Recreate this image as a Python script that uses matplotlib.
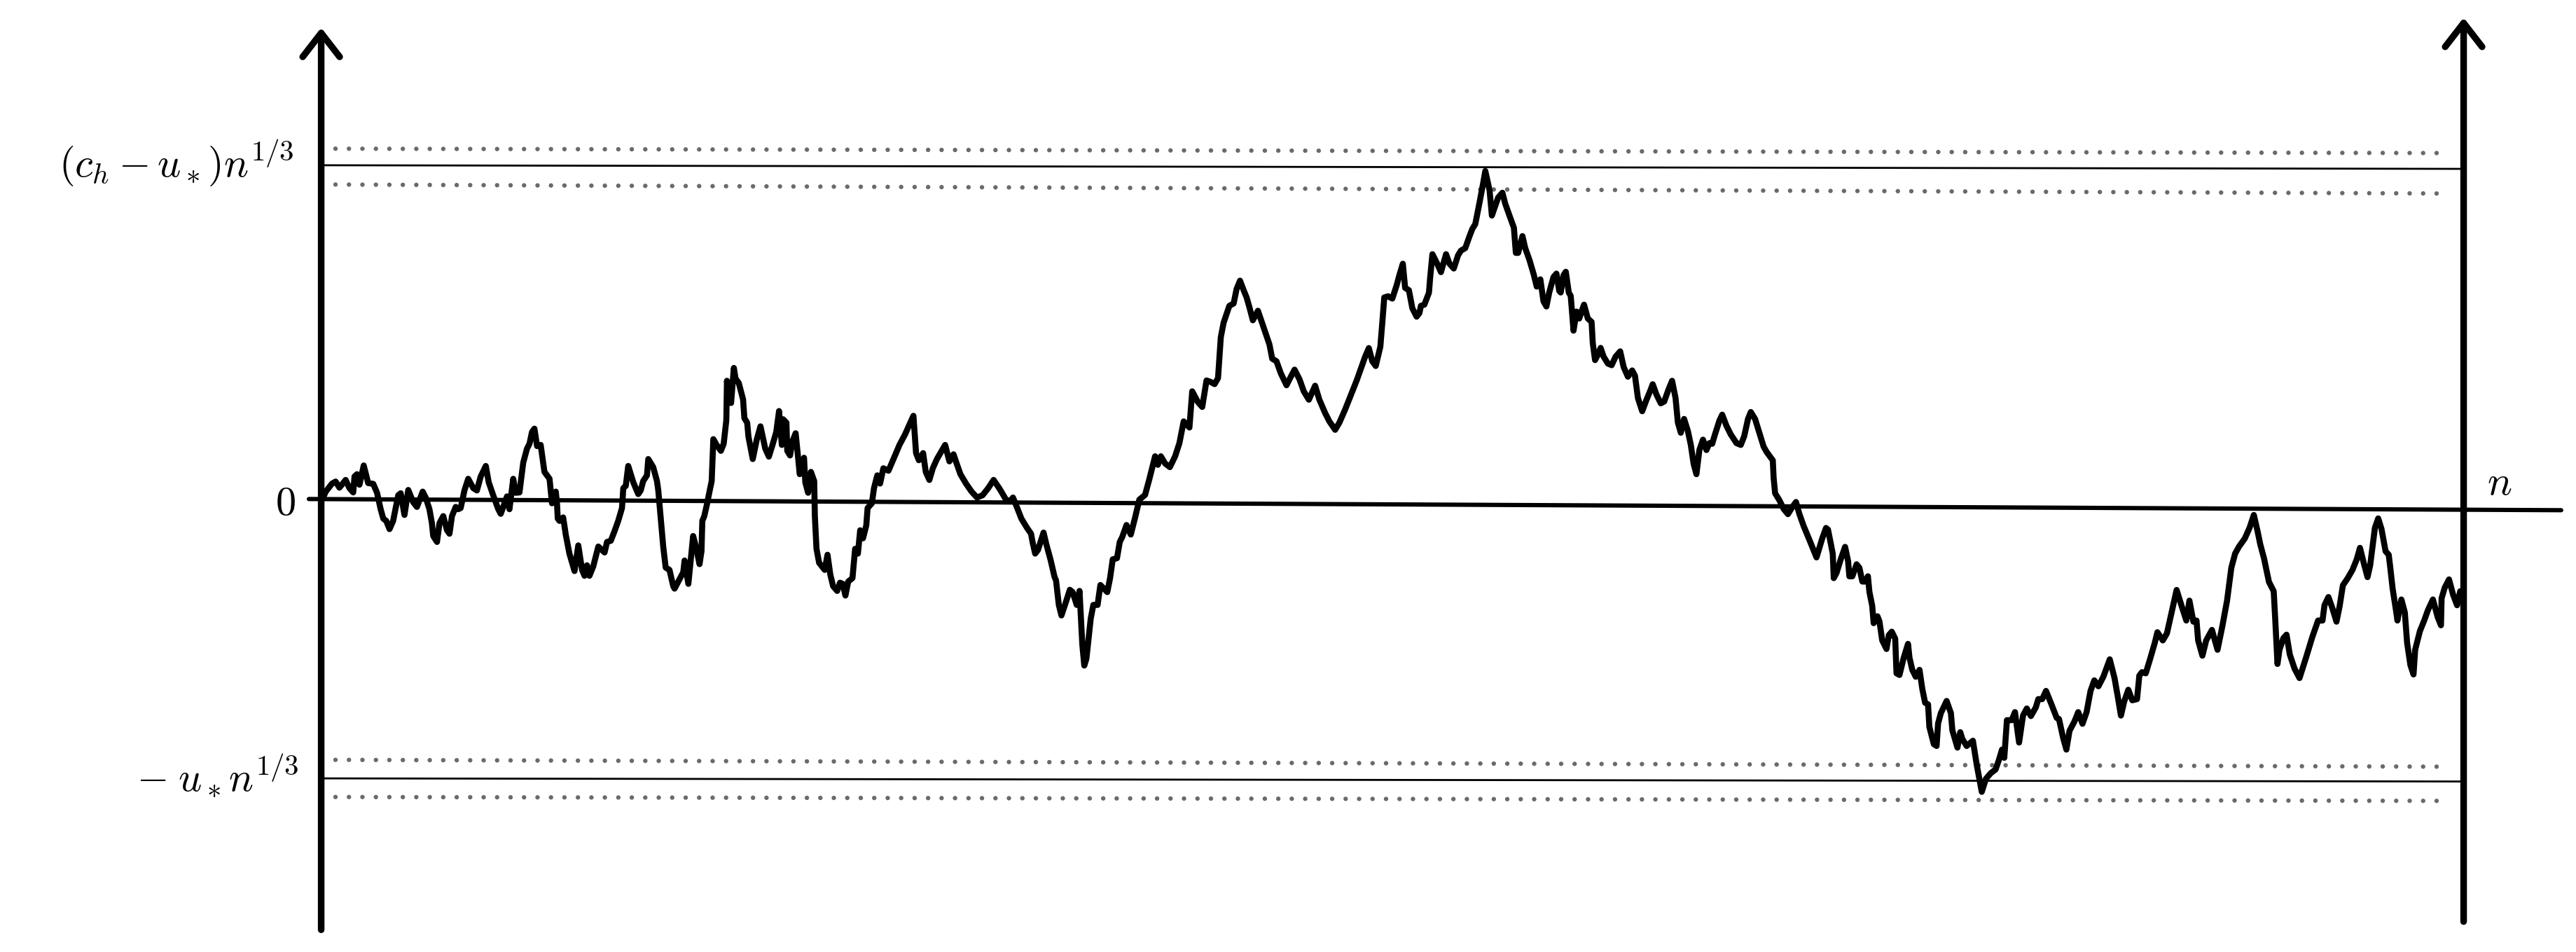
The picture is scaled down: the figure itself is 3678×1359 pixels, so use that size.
import numpy as np
import matplotlib.pyplot as plt

plt.rcParams['mathtext.fontset'] = 'cm'
plt.rcParams['font.family'] = ['DejaVu Serif']

# path of the walk (step, value)
steps = [0.5, 1.7, 3.3, 7.1, 9.3, 11.6, 15.4, 17.7, 20.0, 20.8, 22.3, 23.8, 26.4, 29.1, 32.2, 34.5, 36.7, 38.3, 40.1, 42.1,
         44.3, 47.4, 48.9, 51.2, 53.5, 56.5, 58.8, 62.3, 64.1, 66.4, 67.9, 68.7, 71.0, 72.5, 74.8, 77.1, 78.6, 80.1, 82.4, 83.9,
         85.4, 87.7, 90.0, 93.1, 95.3, 97.6, 100.7, 102.5, 105.2, 108.3, 109.8, 111.3, 113.6, 115.1, 117.4, 118.9, 121.2, 123.5, 125.8, 127.3,
         128.8, 130.3, 131.9, 134.1, 136.4, 139.5, 141.0, 143.3, 144.0, 144.5, 145.6, 147.8, 149.4, 151.6, 154.7, 157.0, 159.3, 160.8, 162.3, 163.8,
         166.1, 169.2, 173.0, 174.5, 176.8, 179.0, 181.3, 183.6, 184.4, 185.9, 187.4, 190.5, 193.5, 195.0, 196.5, 198.8, 199.6, 202.6, 204.9, 205.7,
         207.2, 208.7, 210.2, 212.5, 214.8, 215.6, 218.6, 220.9, 221.7,
         224.0, 226.9, 228.6, 230.8, 232.0, 232.5, 233.7, 235.3, 237.0, 238.2, 239.2, 241.2, 243.8, 245.5, 247.1, 247.5, 248.8, 250.0, 251.7, 252.7,
         254.7, 257.3, 258.1, 259.8, 260.6, 263.2, 265.7, 267.9, 270.8, 273.0, 275.0, 277.5, 279.2, 280.9, 281.7, 283.7, 284.2, 285.9, 287.3, 289.3,
         290.1, 291.8, 294.4, 295.2, 296.9, 298.6, 300.6, 301.0, 302.0, 303.6, 307.0, 308.7, 310.4, 312.1, 314.6, 316.3, 318.0, 319.6, 321.3, 323.9,
         325.5, 327.2, 328.6, 330.3, 332.3, 333.1, 335.7, 337.0, 339.0, 340.7, 342.7, 345.8, 349.2, 352.5, 355.9, 358.4, 361.0, 362.6, 364.3, 366.9,
         368.5, 370.7, 372.8, 375.3, 377.8, 380.3, 382.9, 385.4, 387.1, 389.6, 393.0, 396.4, 399.7, 403.1, 406.5, 409.8, 413.2, 414.9, 417.4, 420.0,
         421.6, 424.2, 426.7, 430.1, 432.6, 433.5, 435.1, 436.8, 440.2, 441.9, 444.4, 446.9, 447.8, 449.5, 451.1, 453.7, 456.2, 457.9, 460.4, 462.1,
         463.8, 465.0, 466.3, 468.9, 470.5, 473.1, 474.8, 479.0, 480.7, 482.3, 484.9, 486.6,
         488.1, 490.7, 493.3, 495.9, 498.5, 502.0, 504.6, 508.1, 509.8, 511.6, 514.2, 517.1, 520.3, 522.9, 525.5, 529.0, 530.7, 534.2, 536.8, 539.4,
         541.5, 544.3, 546.4, 548.1, 549.8, 553.3, 555.9, 557.7, 559.8, 562.0, 563.8, 565.5, 567.6, 570.7, 574.2, 577.7, 579.4, 582.0, 584.6, 586.4,
         588.1, 589.9, 593.0, 596.0, 598.6, 601.7, 605.5, 608.1, 611.6, 614.2, 617.7, 620.3, 623.8, 627.3, 630.8, 633.4, 636.0, 638.2, 640.3, 642.4,
         645.2, 646.4, 647.6, 649.9, 652.5, 655.1, 656.9, 658.9, 660.3, 662.6, 664.7, 667.3, 669.0, 669.9, 672.0, 674.8, 675.5, 676.9, 679.5, 682.1,
         685.2, 687.3, 689.9, 692.5, 694.3, 696.9, 699.5, 701.2, 703.0, 705.6, 707.8, 709.1, 711.7, 713.1, 715.1, 716.9, 719.5, 721.2, 723.8, 726.5,
         727.7, 729.1, 731.7, 733.4, 736.0, 738.6, 740.4, 742.6,
         744.5, 746.3, 748.0, 750.6, 752.4, 754.1, 755.0, 756.7, 758.1, 759.9, 761.1, 762.8, 764.6, 766.3, 768.0, 769.2, 771.5, 773.8, 774.5, 775.9,
         777.6, 779.3, 781.1, 783.7, 786.0, 788.4, 791.2, 793.3, 795.9, 798.5, 800.2, 802.0, 804.6, 807.2, 809.8, 811.0, 813.3, 815.9, 818.0, 820.6,
         822.8, 824.9, 826.3, 828.1, 830.1, 832.4, 834.2, 835.9, 837.6, 839.4, 841.6, 843.7, 845.5, 847.2, 848.9, 851.6, 853.3, 855.9, 858.5, 862.0,
         864.6, 866.7, 869.0, 870.7, 873.3, 875.9, 878.5, 880.3, 884.1, 884.6, 885.5, 888.1, 890.7, 893.3, 895.9, 898.2, 900.3, 902.9, 906.4, 909.0,
         910.7, 914.2, 916.5, 917.7, 919.4, 920.6, 921.2, 922.9, 925.5, 928.1, 929.9, 930.7, 932.5, 935.1, 936.8, 938.6, 940.3, 942.0, 942.9, 944.6,
         945.5, 947.8, 949.0, 950.7, 953.3, 954.7, 956.5, 958.6, 959.4, 961.2, 963.8, 966.4, 967.3, 969.0, 971.1, 973.4, 975.1, 976.8, 978.6, 979.4,
         982.1, 983.8, 984.7, 986.4, 989.9, 992.5, 993.4, 996.5, 998.2, 999.5, 1002.1, 1005.9, 1008.2,
         1011.3, 1013.8, 1016.8, 1019.7, 1021.7, 1023.6, 1025.0, 1026.6, 1029.5, 1031.5, 1034.0, 1036.4, 1038.7, 1041.2, 1044.2, 1045.7, 1048.1, 1050.4, 1053.6, 1056.9,
         1058.3, 1060.8, 1062.8, 1064.7, 1067.7, 1070.0, 1072.6, 1075.1, 1077.5, 1079.8, 1082.3, 1085.3, 1089.2, 1092.1, 1094.1, 1096.0, 1098.0, 1100.5, 1102.9, 1105.8,
         1107.2, 1108.8, 1111.1, 1113.7, 1116.6, 1118.2, 1121.5, 1124.0, 1126.4, 1129.9, 1132.8, 1135.8, 1137.7, 1140.1, 1142.0, 1143.0, 1145.6, 1147.9, 1151.4, 1154.8,
         1157.7, 1160.6, 1163.2, 1165.5, 1167.9, 1171.4, 1174.3, 1176.9, 1179.2, 1180.8, 1183.1, 1186.1, 1189.0, 1190.0, 1191.3, 1192.5, 1194.9, 1196.8, 1198.8, 1201.7,
         1204.7, 1208.6, 1212.5, 1216.0, 1218.7, 1219.9, 1222.3, 1224.6, 1227.2, 1229.1, 1231.1, 1234.0, 1236.9, 1239.5, 1241.5, 1243.8, 1246.1, 1247.7, 1250.6, 1252.6,
         1254.6, 1257.1, 1259.0, 1259.8, 1261.4, 1263.4, 1264.3, 1266.7, 1268.8, 1270.2, 1272.2, 1274.1, 1275.1, 1278.0, 1280.6, 1282.9, 1285.9, 1288.8, 1290.8, 1291.2,
         1293.1, 1295.7, 1298.2, 1300.6, 1302.5]

walk = [1.5, 2.4, 6.0, 10.9, 12.1, 8.4, 13.1, 8.1, 5.5, 15.2, 16.6, 10.2, 21.9, 11.2, 10.7, 5.3, -4.7, -10.4, -11.8, -16.8,
        -11.8, 3.8, 5.0, -8.2, 7.0, -0.4, -3.3, 6.0, 2.4, -4.7, -13.2, -21.0, -24.6, -13.2, -8.9, -17.5, -19.6, -8.9, -3.3, -4.7,
        -4.0, 6.7, 13.8, 8.1, 6.7, 15.2, 21.6, 11.6, 3.8, -4.7, -7.5, -3.3, 3.1, -4.7, 13.8, 5.3, 5.5, 23.7, 32.2, 35.1,
        42.2, 44.3, 33.7, 34.4, 18.0, 13.8, -1.1, 6.0, -0.4, -10.4, -11.8, -9.7, -20.3, -31.7, -42.3, -26.7, -41.6, -45.2, -38.8, -45.2,
        -39.5, -27.4, -31.0, -24.6, -23.9, -18.2, -11.8, -4.0, 8.1, 9.5, 21.6, 11.6, 4.5, 6.7, 12.4, 15.9, 25.8, 20.9, 12.4, 6.7,
        -10.4, -27.4, -40.2, -41.6, -51.5, -53.0, -47.3, -43.0, -35.9,
        -50.1, -21.0, -27.4, -38.1, -30.2, -11.8, -8.9, -1.8, 6.7, 12.4, 37.9, 34.4, 30.8, 35.1, 49.3, 73.4, 60.6, 59.9, 81.2, 74.8,
        72.0, 62.1, 50.7, 47.9, 39.3, 25.8, 37.9, 45.7, 32.2, 27.3, 33.7, 42.2, 55.0, 34.4, 50.0, 47.9, 30.8, 28.0, 36.5, 41.5,
        33.7, 16.6, 26.6, 11.6, 5.3, 18.0, 12.4, -8.9, -28.8, -37.3, -41.6, -32.4, -44.4, -51.5, -54.4, -49.4, -50.1, -57.2, -48.7, -46.6,
        -28.8, -31.7, -17.5, -22.4, -14.6, -4.0, -1.1, 8.1, 15.9, 10.9, 20.2, 18.7, 26.6, 34.4, 40.8, 46.4, 52.1, 29.4, 25.1, 29.4,
        18.0, 13.1, 20.2, 25.8, 30.1, 34.4, 24.4, 28.7, 23.7, 16.6, 10.9, 6.0, 2.4, 3.8, 8.1, 13.1, 8.1, 5.3, 1.0, 0.3,
        2.4, -4.0, -10.4, -16.0, -19.6, -24.6, -31.7, -29.5, -18.9, -26.0, -35.2, -45.9, -48.0, -62.9, -69.3, -61.5, -53.7, -55.1, -62.9, -54.4,
        -87.0, -99.8, -95.6, -71.4, -62.9, -62.9, -50.8, -55.1, -46.6, -35.2, -34.5, -24.6,
        -21.6, -14.3, -20.1, -9.9, 1.1, 4.0, 13.6, 27.5, 22.3, 27.5, 23.1, 20.9, 27.5, 35.5, 48.7, 45.0, 67.0, 60.4, 57.5, 73.6,
        72.9, 71.4, 75.0, 99.9, 108.7, 119.0, 120.4, 129.2, 134.3, 128.5, 124.1, 118.2, 110.2, 116.0, 105.8, 95.5, 86.8, 85.3, 78.0, 74.3,
        70.7, 74.3, 80.2, 74.3, 67.0, 61.9, 70.4, 61.9, 53.8, 48.7, 43.6, 48.0, 56.0, 64.8, 73.6, 80.9, 88.2, 93.3, 85.3, 82.4,
        94.1, 108.7, 124.1, 124.8, 123.4, 131.4, 138.0, 144.6, 129.9, 128.5, 117.5, 112.4, 114.6, 119.0, 119.7, 127.0, 135.8, 150.4, 145.3, 139.5,
        150.4, 144.6, 141.7, 149.7, 152.6, 154.1, 161.4, 165.8, 168.7, 181.9, 193.6, 201.0, 189.2, 173.9, 179.7, 184.8, 187.8, 181.2, 173.9, 166.5,
        151.2, 151.2, 161.4, 154.1, 146.8, 138.0, 130.7, 135.1,
        121.8, 118.6, 127.1, 136.5, 138.6, 128.1, 127.1, 137.6, 139.7, 127.1, 125.0, 103.9, 115.5, 111.3, 116.5, 119.7, 111.3, 109.2, 96.5, 86.0,
        89.2, 93.4, 88.1, 83.9, 82.9, 88.1, 91.3, 81.8, 75.9, 79.7, 76.5, 62.9, 54.9, 61.8, 68.1, 71.3, 65.0, 59.7, 60.8, 68.1,
        73.4, 62.9, 48.1, 41.8, 50.2, 42.9, 34.4, 22.9, 16.6, 31.3, 37.6, 31.3, 35.5, 35.1, 40.8, 49.2, 52.8, 46.0, 40.8, 35.5,
        34.4, 39.7, 50.2, 54.4, 50.2, 41.8, 33.4, 30.2, 25.0, 14.4, 5.0, 0.8, -4.5, -7.7, -3.5, -0.3, -7.7, -15.0, -23.4, -29.8,
        -34.0, -22.4, -16.1, -17.1, -25.6, -31.9, -46.6, -43.4, -35.0, -27.6, -36.1, -45.5, -45.5, -38.2, -40.3, -48.7, -48.7, -45.5, -55.0, -63.4,
        -74.0, -69.8, -72.9, -84.5, -89.7, -81.3, -79.2, -83.4, -104.5, -105.5, -95.0, -86.6, -95.0, -102.4, -106.6, -102.4, -114.0, -122.4, -123.4, -137.1,
        -147.6, -148.7, -135.0, -128.7, -121.3, -128.7, -139.2, -149.7, -140.3, -144.5, -148.7, -145.5, -160.0,
        -176.6, -168.7, -165.2, -163.0, -157.3, -150.9, -155.9, -133.0, -133.0, -128.1, -146.6, -130.2, -125.9, -130.5, -125.2, -120.2, -120.2, -115.2, -123.1, -131.6,
        -132.3, -143.7, -150.9, -139.5, -133.8, -128.1, -135.2, -128.1, -115.2, -108.8, -112.4, -106.6, -96.0, -107.4, -118.8, -130.2, -121.6, -114.5, -120.9, -120.2,
        -105.9, -103.8, -104.5, -96.0, -86.0, -79.5, -84.5, -80.2, -69.5, -53.8, -63.1, -72.4, -60.3, -73.1, -72.4, -84.5, -93.8, -84.5, -78.1, -90.2,
        -76.0, -60.3, -40.3, -31.7, -27.4, -22.5, -16.0, -8.2, -18.2, -26.0, -34.6, -48.9, -54.6, -73.1, -98.8, -90.2, -83.1, -81.0, -93.1, -101.7,
        -107.4, -95.2, -82.4, -72.4, -72.4, -63.1, -58.1, -64.6, -73.1, -63.8, -51.0, -46.7, -41.7, -35.3, -28.2, -37.4, -46.0, -38.9, -16.0, -10.3,
        -16.7, -30.3, -32.4, -38.9, -53.1, -66.0, -72.4, -59.6, -67.4, -86.0, -99.5, -105.2, -90.2, -78.8, -72.4, -66.0, -59.6, -70.3, -75.3, -58.8,
        -52.4, -47.4, -56.7, -63.1, -54.6]

# reference levels (value at left end, value at right end; the drawing is a bit tilted)
upper_level = [204.5, 202.3]
upper_band = [[214.6, 211.9], [192.8, 187.3]]
lower_level = [-168.4, -170.3]
lower_band = [[-157.1, -161.3], [-179.7, -182.1]]
zero_level = [1.5, -5.3]
n_end = 1304.6

fig = plt.figure(figsize=(36.78, 13.59), dpi=100)
ax = fig.add_axes([0, 0, 1, 1])
ax.set_xlim(-195, 1373)
ax.set_ylim(-274, 305)
ax.axis('off')

# dotted bands
for lv in upper_band + lower_band:
    ax.plot([1, n_end - 9], lv, color='#6a6a6a', lw=4.6, ls=(0, (0.01, 3.0)),
            dash_capstyle='round')
# thin solid levels
for lv in [upper_level, lower_level]:
    ax.plot([0.5, n_end], lv, color='black', lw=2.0)

# horizontal axis
ax.plot([-7, 1364], zero_level, color='black', lw=4.4, solid_capstyle='round')

# the walk
ax.plot(steps, walk, color='black', lw=6.2, solid_joinstyle='round', solid_capstyle='round')

# vertical axes with arrows
for x, y0, y1 in [(0.5, -260.5, 288.2), (n_end, -255.5, 294.3)]:
    ax.annotate('', xy=(x, y1), xytext=(x, y0),
                arrowprops=dict(arrowstyle='->,head_length=2.45,head_width=1.9', lw=6.8,
                                color='black', shrinkA=0, shrinkB=0, capstyle='round'))

fs = 42
ax.text(-16, 197.6, r'$(c_h - u_*)n^{1/3}$', ha='right', va='baseline', fontsize=fs)
ax.text(-15, -8, r'$0$', ha='right', va='baseline', fontsize=fs)
ax.text(-13, -176, r'$-\;u_*n^{1/3}$', ha='right', va='baseline', fontsize=fs)
ax.text(1319, 4, r'$n$', ha='left', va='baseline', fontsize=fs)

fig.savefig('out.png', dpi=100)
